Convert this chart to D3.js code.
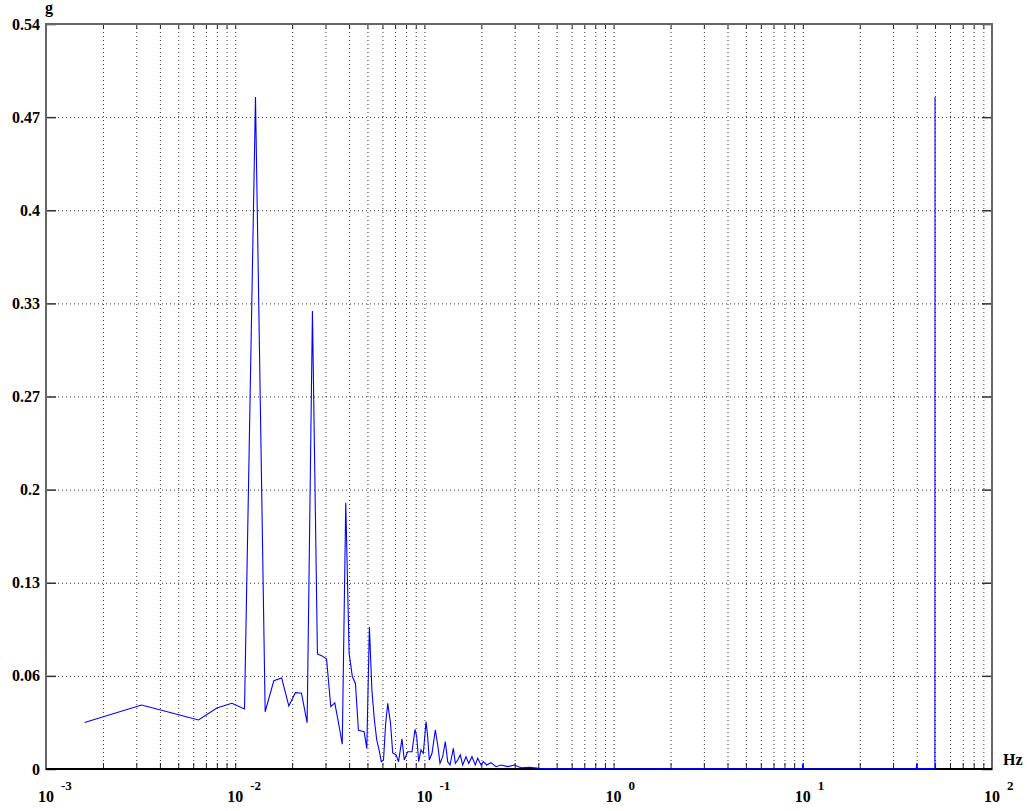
<!DOCTYPE html>
<html>
<head>
<meta charset="utf-8">
<style>
  body { margin: 0; background: #fff; }
  svg { display: block; }
  .lbl { font-family: "Liberation Serif", "Times New Roman", serif; font-weight: bold; fill: #000; }
</style>
</head>
<body>
<script src="https://d3js.org/d3.v7.min.js"></script>
<div id="chart"></div>
<script>
// spectrum, frequency in Hz
var freqs = [0.0016, 0.0032, 0.0048, 0.0064, 0.008, 0.0096, 0.0112, 0.0128, 0.0144, 0.016,
    0.0176, 0.0192, 0.0208, 0.0224, 0.024, 0.0256, 0.0272, 0.0288, 0.0304, 0.032,
    0.0336, 0.0352, 0.0368, 0.0384, 0.04, 0.0416, 0.0432, 0.0448, 0.0464, 0.048,
    0.0496, 0.0512, 0.0528, 0.0544, 0.056, 0.0576, 0.0592, 0.0608, 0.0624, 0.064,
    0.0662, 0.068, 0.0708, 0.073, 0.0761, 0.0783, 0.0816, 0.086, 0.0892, 0.0911,
    0.0933, 0.0959, 0.0987, 0.102, 0.1041, 0.1061, 0.1097, 0.1142, 0.1176, 0.1209,
    0.1249, 0.129, 0.1328, 0.1366, 0.1422, 0.1457, 0.15, 0.1548, 0.1594, 0.1659,
    0.1715, 0.1785, 0.1858, 0.1913, 0.1992, 0.2048, 0.2135, 0.2249, 0.239, 0.2541,
    0.2756, 0.2987, 0.324, 0.3584, 0.405, 0.4962,
    0.7, 1.2, 2.5, 5, 9.95, 10, 10.05, 20, 39.8, 40, 40.2, 49.9, 50];

// amplitude in g
var amps = [0.0337, 0.0464, 0.040, 0.0355, 0.0442, 0.0476, 0.0435, 0.487, 0.0415, 0.064,
    0.066, 0.0457, 0.0553, 0.0549, 0.0336, 0.332, 0.0834, 0.082, 0.0797, 0.0452,
    0.048, 0.033, 0.018, 0.193, 0.084, 0.067, 0.062, 0.028, 0.0275, 0.027,
    0.015, 0.103, 0.057, 0.0355, 0.021, 0.0138, 0.0053, 0.0065, 0.033, 0.0476,
    0.0334, 0.0116, 0.0102, 0.0053, 0.0218, 0.0065, 0.0125, 0.0125, 0.0288, 0.0234,
    0.0053, 0.0138, 0.0114, 0.0343, 0.0234, 0.0065, 0.0114, 0.0283, 0.0174, 0.0041,
    0.0089, 0.0198, 0.0053, 0.0029, 0.015, 0.0041, 0.0065, 0.0102, 0.0029, 0.0089,
    0.0041, 0.0089, 0.0029, 0.0078, 0.0029, 0.0053, 0.0029, 0.0046, 0.0017, 0.0029,
    0.0017, 0.0029, 0.0009, 0.0012, 0.0005, 0.0002,
    0.0003, 0.0002, 0.0003, 0.0002, 0.0003, 0.004, 0.0003, 0.0002, 0.0003, 0.004, 0.0003, 0.0003, 0.487];

var yTickValues = [0, 0.0675, 0.135, 0.2025, 0.27, 0.3375, 0.405, 0.4725, 0.54];
var yTickLabels = ["0", "0.06", "0.13", "0.2", "0.27", "0.33", "0.4", "0.47", "0.54"];
var xDecades = [-3, -2, -1, 0, 1, 2];

var margin = { top: 24, right: 35, bottom: 42, left: 46 },
    width = 1027 - margin.left - margin.right,
    height = 811 - margin.top - margin.bottom;

var svg = d3.select("#chart")
    .append("svg")
    .attr("width", 1027)
    .attr("height", 811)
    .append("g")
    .attr("transform", "translate(" + margin.left + "," + margin.top + ")");

var x = d3.scaleLog()
    .domain([1e-3, 1e2])
    .range([0, width]);

var y = d3.scaleLinear()
    .domain([0, 0.54])
    .range([height, 0]);

// grid
svg.append("g")
    .attr("class", "grid")
    .attr("transform", "translate(0," + height + ")")
    .call(d3.axisBottom(x).tickSize(-height).tickFormat(""))
    .call(function (g) {
        g.select(".domain").remove();
        g.selectAll("line").attr("stroke", "#333").attr("stroke-dasharray", "1,3");
    });

svg.append("g")
    .attr("class", "grid")
    .call(d3.axisLeft(y).tickValues(yTickValues).tickSize(-width).tickFormat(""))
    .call(function (g) {
        g.select(".domain").remove();
        g.selectAll("line").attr("stroke", "#333").attr("stroke-dasharray", "1,3");
    });

// inward tick marks
svg.append("g")
    .attr("transform", "translate(0," + height + ")")
    .call(d3.axisBottom(x).tickSize(-6).tickFormat(""))
    .call(function (g) { g.select(".domain").remove(); g.selectAll("line").attr("stroke", "#222"); });
svg.append("g")
    .call(d3.axisTop(x).tickSize(-5).tickFormat(""))
    .call(function (g) { g.select(".domain").remove(); g.selectAll("line").attr("stroke", "#222"); });
svg.append("g")
    .call(d3.axisLeft(y).tickValues(yTickValues).tickSize(-10).tickFormat(""))
    .call(function (g) { g.select(".domain").remove(); g.selectAll("line").attr("stroke", "#333").attr("stroke-width", 1.5); });
svg.append("g")
    .attr("transform", "translate(" + width + ",0)")
    .call(d3.axisRight(y).tickValues(yTickValues).tickSize(-10).tickFormat(""))
    .call(function (g) { g.select(".domain").remove(); g.selectAll("line").attr("stroke", "#333").attr("stroke-width", 1.5); });

// frame
svg.append("rect")
    .attr("width", width)
    .attr("height", height)
    .attr("fill", "none")
    .attr("stroke", "#666")
    .attr("stroke-width", 2);
svg.append("line")
    .attr("x1", 0).attr("x2", width)
    .attr("y1", height).attr("y2", height)
    .attr("stroke", "#000")
    .attr("stroke-width", 2);

// the spectrum
var data = d3.zip(freqs, amps);
svg.append("path")
    .datum(data)
    .attr("fill", "none")
    .attr("stroke", "#0000ff")
    .attr("stroke-width", 1.1)
    .attr("d", d3.line()
        .x(function (d) { return x(d[0]) })
        .y(function (d) { return y(d[1]) })
    );

// y labels
svg.selectAll(".ylbl")
    .data(yTickValues)
    .enter()
    .append("text")
    .attr("class", "lbl")
    .attr("x", -6)
    .attr("y", function (d) { return y(d) })
    .attr("dy", "0.35em")
    .attr("text-anchor", "end")
    .style("font-size", "16px")
    .text(function (d, i) { return yTickLabels[i] });

// x labels: 10 with exponent
var xl = svg.selectAll(".xlbl")
    .data(xDecades)
    .enter()
    .append("g")
    .attr("transform", function (d) { return "translate(" + x(Math.pow(10, d)) + "," + (height + 33) + ")"; });
xl.append("text")
    .attr("class", "lbl")
    .attr("text-anchor", "middle")
    .style("font-size", "16px")
    .text("10");
xl.append("text")
    .attr("class", "lbl")
    .attr("x", 15)
    .attr("y", -12)
    .style("font-size", "13px")
    .text(function (d) { return d; });

// unit labels
svg.append("text")
    .attr("class", "lbl")
    .attr("x", -1)
    .attr("y", -11)
    .style("font-size", "16px")
    .text("g");
svg.append("text")
    .attr("class", "lbl")
    .attr("x", width + 11)
    .attr("y", height - 4)
    .style("font-size", "16px")
    .text("Hz");
</script>
</body>
</html>
